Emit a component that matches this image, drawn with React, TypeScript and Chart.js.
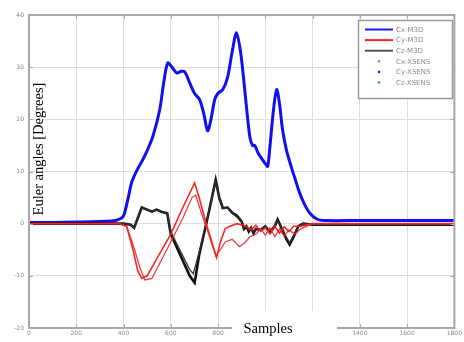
import React, { useEffect, useRef } from "react";
import { Chart, registerables } from "chart.js";

Chart.register(...registerables);

// ---- data (samples, degrees) ----
const blueX = [0, 200, 350, 380, 400, 420, 435, 460, 482, 500, 524, 553, 570, 587, 605, 625, 645, 659, 680, 700, 722, 740, 756, 770, 786, 800, 820, 840, 860, 878, 895, 910, 921, 935, 946, 955, 970, 983, 1000, 1010, 1020, 1035, 1048, 1060, 1073, 1090, 1111, 1130, 1145, 1165, 1187, 1217, 1250, 1400, 1600, 1800];
const blueY = [0.2, 0.3, 0.5, 0.8, 1.5, 5, 8, 10.5, 12.3, 14, 16.7, 21.8, 27, 30.8, 30, 28.9, 29.2, 29.1, 27, 25, 23.8, 21, 17.8, 20, 23.8, 25, 25.7, 28, 33, 36.6, 33, 27, 22, 16.5, 15, 15, 13.5, 12.6, 11.5, 11, 15, 22, 25.7, 23, 18, 14, 10.7, 8, 5.9, 3.8, 2.1, 0.9, 0.6, 0.6, 0.6, 0.6];

const redAX = [0, 380, 413, 440, 460, 477, 500, 550, 600, 650, 701, 720, 750, 794, 810, 830, 850, 880, 920, 940, 960, 980, 1000, 1020, 1040, 1060, 1080, 1100, 1120, 1150, 1200, 1300, 1800];
const redAY = [0, 0, -0.5, -5, -9, -10.5, -10, -6, -2, 3, 7.8, 5, 0, -6.5, -3.5, -1, -0.5, 0, -0.5, -1.2, -0.3, -1.5, -0.8, -2, -0.5, -1.8, -0.6, -1.5, -0.5, -0.5, 0, 0, 0];

const redBX = [0, 380, 413, 440, 470, 490, 520, 560, 600, 650, 690, 705, 730, 760, 790, 810, 830, 860, 890, 910, 935, 960, 980, 1000, 1020, 1040, 1060, 1080, 1100, 1125, 1150, 1200, 1800];
const redBY = [0, 0, -0.5, -4, -8.5, -10.8, -10.5, -7, -3.5, 1, 5, 5.5, 2, -2, -6.2, -5, -3.5, -3, -4.4, -3.8, -2.5, -2, -1, -2.2, -0.8, -2.5, -1, -2.4, -1.2, -2, -1, 0, 0];

const blackAX = [0, 400, 430, 445, 477, 500, 520, 540, 560, 585, 600, 640, 680, 701, 720, 760, 790, 805, 820, 840, 860, 880, 900, 910, 920, 930, 940, 950, 960, 980, 1000, 1020, 1040, 1052, 1070, 1090, 1103, 1120, 1140, 1160, 1200, 1800];
const blackAY = [0, 0, -0.2, -0.8, 3.1, 2.7, 2.3, 2.7, 2.3, 2, -2, -6, -10, -11.3, -6, 2, 8.4, 5, 3, 3.1, 2.1, 1.5, 0.4, -1, -0.5, -1.5, -0.8, -1.8, -1, -1.2, -0.5, -1.6, -0.5, 0.8, -1, -3, -4, -2.5, -0.5, 0, -0.2, -0.2];

const blackBX = [0, 400, 430, 445, 477, 500, 520, 540, 560, 585, 600, 640, 680, 695, 720, 760, 790, 805, 820, 840, 860, 880, 900, 910, 920, 930, 940, 950, 960, 980, 1000, 1020, 1040, 1052, 1070, 1090, 1103, 1120, 1140, 1160, 1200, 1800];
const blackBY = [0, 0, -0.2, -0.8, 3.0, 2.6, 2.3, 2.6, 2.3, 2, -1.5, -5.2, -8.8, -9.6, -5.5, 2, 8.0, 5, 3, 3, 2, 1.3, 0.3, -0.8, -0.4, -1.3, -0.7, -1.6, -0.9, -1.1, -0.4, -1.4, -0.4, 0.6, -0.9, -2.7, -3.6, -2.2, -0.4, 0, -0.2, -0.2];

const xTicks = [0, 200, 400, 600, 800, 1000, 1200, 1400, 1600, 1800];
const yTicks = [-20, -10, 0, 10, 20, 30, 40];

const legendLabels = ["Cx-M3D", "Cy-M3D", "Cz-M3D", "Cx-XSENS", "Cy-XSENS", "Cz-XSENS"];
const legendColors = ["#1a1aff", "#ff2020", "#555555", "#e07050", "#3030a0", "#40a040"];
const legendKinds = ["line", "line", "line", "dot", "dot", "dot"];

const xLabel = "Samples";
const yLabel = "Euler angles [Degrees]";

const pts = (xs: number[], ys: number[]) => xs.map((x, i) => ({ x, y: ys[i] }));

export default function App() {
  const ref = useRef<HTMLCanvasElement | null>(null);

  useEffect(() => {
    document.body.style.margin = "0";
    const canvas = ref.current;
    if (!canvas) return;

    const decor = {
      id: "decor",
      afterDatasetsDraw(chart: any) {
        const { ctx, chartArea: a } = chart;
        ctx.save();
        ctx.strokeStyle = "#a8a8a8";
        ctx.lineWidth = 2;
        ctx.strokeRect(a.left, a.top, a.right - a.left, a.bottom - a.top);
        ctx.lineWidth = 1;
        const xs = chart.scales.x;
        const ys = chart.scales.y;
        xTicks.forEach((t) => {
          const px = Math.round(xs.getPixelForValue(t)) + 0.5;
          ctx.beginPath();
          ctx.moveTo(px, a.top);
          ctx.lineTo(px, a.top + 4);
          ctx.moveTo(px, a.bottom);
          ctx.lineTo(px, a.bottom - 4);
          ctx.stroke();
        });
        yTicks.forEach((t) => {
          const py = Math.round(ys.getPixelForValue(t)) + 0.5;
          ctx.beginPath();
          ctx.moveTo(a.left, py);
          ctx.lineTo(a.left + 4, py);
          ctx.moveTo(a.right, py);
          ctx.lineTo(a.right - 4, py);
          ctx.stroke();
        });

        // y label
        ctx.fillStyle = "#000";
        ctx.font = "14.5px 'Liberation Serif', 'DejaVu Serif', serif";
        ctx.textAlign = "center";
        ctx.textBaseline = "middle";
        ctx.save();
        ctx.translate(39, 149);
        ctx.rotate(-Math.PI / 2);
        ctx.fillText(yLabel, 0, 0);
        ctx.restore();

        // x label with white background
        ctx.fillStyle = "#fff";
        ctx.fillRect(232, 311, 105, 31);
        ctx.fillStyle = "#000";
        ctx.fillText(xLabel, 268, 329);

        // legend
        const lx = 358, ly = 20, lw = 94, lh = 78;
        ctx.fillStyle = "#fff";
        ctx.fillRect(lx, ly, lw, lh);
        ctx.strokeStyle = "#9a9a9a";
        ctx.lineWidth = 1.5;
        ctx.strokeRect(lx + 0.5, ly + 0.5, lw, lh);
        ctx.font = "7px 'DejaVu Sans', sans-serif";
        ctx.textAlign = "left";
        legendLabels.forEach((lab, i) => {
          const y = ly + 9.5 + i * 10.6;
          if (legendKinds[i] === "line") {
            ctx.strokeStyle = legendColors[i];
            ctx.lineWidth = 2;
            ctx.beginPath();
            ctx.moveTo(365, y);
            ctx.lineTo(393, y);
            ctx.stroke();
          } else {
            ctx.fillStyle = legendColors[i];
            ctx.beginPath();
            ctx.arc(379, y, 1.3, 0, Math.PI * 2);
            ctx.fill();
          }
          ctx.fillStyle = "#8a8a8a";
          ctx.fillText(lab, 396, y + 0.5);
        });
        ctx.restore();
      },
    };

    const chart = new Chart(canvas, {
      type: "line",
      data: {
        datasets: [
          { label: "Cy-XSENS-trace", data: pts(redBX, redBY), borderColor: "rgba(235,40,40,0.9)", borderWidth: 1.3, pointRadius: 0, tension: 0 },
          { label: legendLabels[1], data: pts(redAX, redAY), borderColor: "rgba(240,30,30,0.95)", borderWidth: 1.6, pointRadius: 0, tension: 0 },
          { label: "Cz-XSENS-trace", data: pts(blackBX, blackBY), borderColor: "#333", borderWidth: 1.3, pointRadius: 0, tension: 0 },
          { label: legendLabels[2], data: pts(blackAX, blackAY), borderColor: "#111", borderWidth: 2.6, pointRadius: 0, tension: 0 },
          { label: legendLabels[0], data: pts(blueX, blueY), borderColor: "#1010f0", borderWidth: 3, pointRadius: 0, tension: 0.3 },
        ],
      },
      options: {
        animation: false,
        responsive: false,
        maintainAspectRatio: false,
        layout: { padding: { top: 15, right: 9, left: 0, bottom: 0 } },
        plugins: { legend: { display: false }, tooltip: { enabled: false } },
        scales: {
          x: {
            type: "linear",
            min: 0,
            max: 1800,
            afterBuildTicks: (s: any) => { s.ticks = xTicks.map((v) => ({ value: v })); },
            afterFit: (s: any) => { s.height = 14; },
            ticks: { font: { size: 6, family: "'DejaVu Sans', sans-serif" }, color: "#8a8a8a", padding: 2, maxRotation: 0, autoSkip: false, callback: (v: any) => String(v) },
            grid: { color: "#dedede", drawTicks: false },
            border: { color: "#a8a8a8", width: 2 },
          },
          y: {
            type: "linear",
            min: -20,
            max: 40,
            afterBuildTicks: (s: any) => { s.ticks = yTicks.map((v) => ({ value: v })); },
            afterFit: (s: any) => { s.width = 29; },
            ticks: { font: { size: 6, family: "'DejaVu Sans', sans-serif" }, color: "#8a8a8a", padding: 5, callback: (v: any) => String(v) },
            grid: { color: "#dedede", drawTicks: false },
            border: { color: "#a8a8a8", width: 2 },
          },
        },
      },
      plugins: [decor],
    });
    return () => chart.destroy();
  }, []);

  return <canvas ref={ref} width={464} height={342} style={{ display: "block", width: 464, height: 342 }} />;
}
